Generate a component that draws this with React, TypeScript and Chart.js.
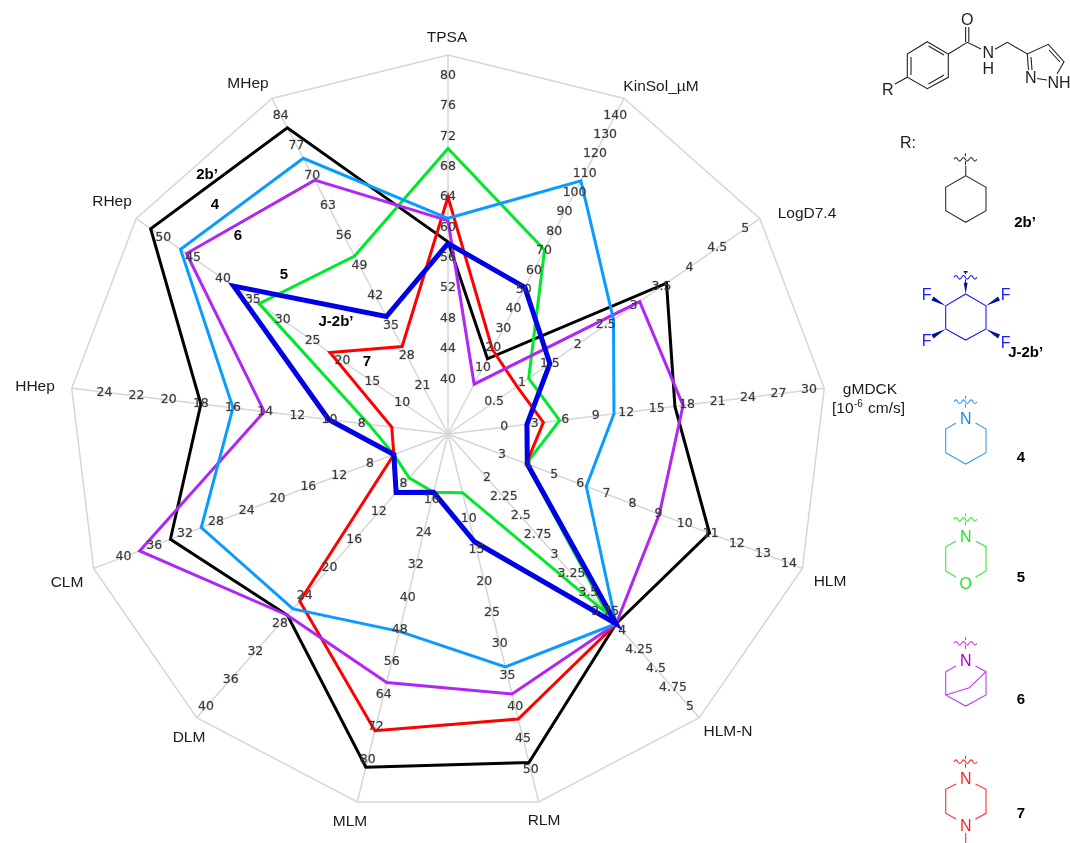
import React, { useEffect, useRef } from "react";
import { Chart, registerables } from "chart.js";

Chart.register(...registerables);

const axes = ["TPSA", "KinSol_µM", "LogD7.4", "gMDCK", "HLM", "HLM-N", "RLM", "MLM", "DLM", "CLM", "HHep", "RHep", "MHep"];

// value found at the centre and at the rim of every spoke
const axisMin = [32.8, -24.4, -0.326, -5.54, 0.93, 1.425, -3.44, -0.29, 0.8, -2.13, 2.63, 2.34, 9.7];
const axisMax = [82.7, 148.7, 5.264, 31.5, 14.51, 5.14, 55.09, 90.49, 41.5, 43.87, 26.03, 54.54, 87.96];

const ticksTPSA = ["40", "44", "48", "52", "56", "60", "64", "68", "72", "76", "80"];
const ticksKinSol = ["10", "20", "30", "40", "50", "60", "70", "80", "90", "100", "110", "120", "130", "140"];
const ticksLogD = ["0.5", "1", "1.5", "2", "2.5", "3", "3.5", "4", "4.5", "5"];
const ticksMDCK = ["0", "3", "6", "9", "12", "15", "18", "21", "24", "27", "30"];
const ticksHLM = ["3", "4", "5", "6", "7", "8", "9", "10", "11", "12", "13", "14"];
const ticksHLMN = ["2", "2.25", "2.5", "2.75", "3", "3.25", "3.5", "3.75", "4", "4.25", "4.5", "4.75", "5"];
const ticksRLM = ["10", "15", "20", "25", "30", "35", "40", "45", "50"];
const ticksMLM = ["16", "24", "32", "40", "48", "56", "64", "72", "80"];
const ticksDLM = ["8", "12", "16", "20", "24", "28", "32", "36", "40"];
const ticksCLM = ["8", "12", "16", "20", "24", "28", "32", "36", "40"];
const ticksHHep = ["8", "10", "12", "14", "16", "18", "20", "22", "24"];
const ticksRHep = ["10", "15", "20", "25", "30", "35", "40", "45", "50"];
const ticksMHep = ["21", "28", "35", "42", "49", "56", "63", "70", "77", "84"];
const axisTicks = [ticksTPSA, ticksKinSol, ticksLogD, ticksMDCK, ticksHLM, ticksHLMN, ticksRLM, ticksMLM, ticksDLM, ticksCLM, ticksHHep, ticksRHep, ticksMHep];

const valuesJ2b = [57.9, 51.2, 1.5, 2.23, 3.97, 3.91, 13.7, 14.1, 9.2, 4.9, 10.05, 38.2, 37.1];
const values4 = [61.2, 106.2, 2.64, 10.8, 6.23, 3.91, 33.6, 48.4, 25.9, 29.9, 16.0, 47.1, 74];
const values6 = [60.9, 1.3, 3.11, 17.6, 9.03, 3.91, 37.9, 61, 26.8, 37.9, 14.06, 46.1, 68.9];
const values7 = [64.0, 19.2, 0.91, 3.85, 3.93, 3.91, 41.9, 72.9, 24.8, 4.9, 6.13, 22.1, 30.1];
const values5 = [70.4, 70.5, 1.12, 5.45, 3.93, 3.78, 5.9, 14.1, 7.1, 4.9, 7.55, 33.95, 51.2];
const values2b = [58.1, 14.4, 3.59, 16.8, 10.95, 3.91, 48.8, 81.9, 26.8, 33.9, 18.0, 52.1, 81.1];

const seriesNames = ["J-2b’", "4", "6", "7", "5", "2b’"];
const seriesValues = [valuesJ2b, values4, values6, values7, values5, values2b];
const seriesColors = ["#0000e6", "#0a9bff", "#b026f5", "#ff0000", "#00e82a", "#000000"];
const seriesWidths = [5, 3, 3, 3, 3, 3];

const labelCentres: [number, number][] = [
  [447, 38], [661, 87], [807, 214], [870, 390], [830, 582], [728, 732], [544, 821],
  [350, 822], [189, 738], [67, 583], [35, 387], [112, 202], [248, 84],
];
const seriesNotes: [string, number, number][] = [
  ["2b’", 207, 175], ["4", 215, 205], ["6", 238, 236], ["5", 284, 275], ["J-2b’", 336, 322], ["7", 367, 362],
];

const radarText = {
  id: "radarText",
  afterDatasetsDraw(chart: any) {
    const { ctx } = chart;
    const scale = chart.scales.r;
    ctx.save();
    ctx.textAlign = "center";
    ctx.textBaseline = "middle";
    ctx.font = '12.5px "DejaVu Sans"';
    ctx.fillStyle = "#3a3a3a";
    ctx.strokeStyle = "rgba(58,58,58,0.55)";
    ctx.lineWidth = 0.4;
    axisTicks.forEach((ticks, i) => {
      ticks.forEach((t) => {
        const frac = (Number(t) - axisMin[i]) / (axisMax[i] - axisMin[i]);
        const p = scale.getPointPositionForValue(i, frac);
        ctx.fillText(t, p.x, p.y);
        ctx.strokeText(t, p.x, p.y);
      });
    });
    ctx.font = '15.5px "Liberation Sans"';
    ctx.fillStyle = "#1c1c1c";
    chart.data.labels.forEach((name: string, i: number) => {
      const [x, y] = labelCentres[i];
      ctx.fillText(name, x, y);
    });
    // second line of the gMDCK label, with its superscript
    ctx.textAlign = "left";
    ctx.fillText("[10", 832, 409);
    ctx.font = '10px "Liberation Sans"';
    ctx.fillText("-6", 854, 404);
    ctx.font = '15.5px "Liberation Sans"';
    ctx.fillText("cm/s]", 868, 409);
    ctx.textAlign = "center";
    ctx.font = 'bold 15px "Liberation Sans"';
    ctx.fillStyle = "#000";
    seriesNotes.forEach(([t, x, y]) => ctx.fillText(t, x, y));
    ctx.restore();
  },
};

const Wiggle = ({ y, c }: { y: number; c: string }) => (
  <g fill="none" stroke={c} strokeWidth={1.1}>
    <path d={`M954 ${y} q1.9 -3.6 3.8 0 t3.8 0 t3.8 0 t3.8 0 t3.8 0 t3.8 0`} />
    <path d={`M965.5 ${y - 6} V${y - 3} M965.5 ${y + 2} V${y + 6}`} />
  </g>
);

const Structures = () => {
  const F = { fontFamily: "Liberation Sans", fontSize: 16, textAnchor: "middle" as const };
  const B = { fontFamily: "Liberation Sans", fontSize: 15, fontWeight: 700 };
  return (
    <svg width={1070} height={843} style={{ position: "absolute", left: 0, top: 0, pointerEvents: "none" }}>
      {/* core */}
      <g fill="none" stroke="#222" strokeWidth={1.1}>
        <path d="M927.3 41.7 L948.3 54 V77.3 L927.3 88.7 L907.3 77.3 V54 Z" />
        <path d="M911 57 V75 M928.5 46 L944 55 M928.5 84 L944 75" />
        <path d="M907.3 77.3 L895 84 M948.3 54 L967.3 42.3 L981 49 M965.6 42 V27 M968.8 42 V27" />
        <path d="M995 49.3 L1007.3 42.3 L1027.3 54 L1048.3 44.3 L1064 61.7 L1057 74 M1027.3 54 L1028.5 70 M1031 57 L1032 70 M1049 50 L1060 62 M1037 78.5 L1047 80" />
      </g>
      <g fill="#222" {...F}>
        <text x={967.3} y={25}>O</text>
        <text x={988.3} y={58}>N</text>
        <text x={988.3} y={73.5}>H</text>
        <text x={1030.7} y={83}>N</text>
        <text x={1059} y={88}>NH</text>
        <text x={887.7} y={95}>R</text>
        <text x={908} y={148}>R:</text>
      </g>
      {/* 2b' */}
      <Wiggle y={159.3} c="#333" />
      <path d="M965.7 166 V175.7 L986 187.3 V210.7 L965.7 222.3 L945.7 210.7 V187.3 L965.7 175.7" fill="none" stroke="#333" strokeWidth={1.1} />
      <text x={1025} y={227} textAnchor="middle" {...B}>2b’</text>
      {/* J-2b' */}
      <Wiggle y={277.3} c="#1a1aff" />
      <path d="M965.7 294 L986 305.7 V329 L965.7 340 L945.7 329 V305.7 Z" fill="none" stroke="#1a1aff" strokeWidth={1.1} />
      <g fill="#00109a">
        <path d="M965.7 294 L963.8 282.7 H967.6 Z" />
        <rect x={963.8} y={271} width={3.8} height={1.6} />
        <path d="M945.7 305.7 L931.5 300.5 L933.5 296.5 Z" />
        <path d="M986 305.7 L1000 300.5 L998 296.5 Z" />
        <path d="M945.7 329 L933.5 338.5 L931.5 334.5 Z" />
        <path d="M986 329 L998 338.5 L1000 334.5 Z" />
      </g>
      <g fill="#1a1aff" {...F}>
        <text x={926.7} y={300}>F</text>
        <text x={1005.7} y={300}>F</text>
        <text x={926.7} y={346}>F</text>
        <text x={1005.7} y={348}>F</text>
      </g>
      <text x={1025.7} y={357} textAnchor="middle" {...B}>J-2b’</text>
      {/* 4 */}
      <Wiggle y={401.7} c="#3a9be8" />
      <path d="M956 423 L945.7 429 V452.7 L965.7 464 L986 452.7 V429 L975.5 423" fill="none" stroke="#3a9be8" strokeWidth={1.1} />
      <text x={965.7} y={424} fill="#1e88e5" {...F}>N</text>
      <text x={1021} y={462} textAnchor="middle" {...B}>4</text>
      {/* 5 */}
      <Wiggle y={519.3} c="#33ee33" />
      <path d="M956 541 L945.7 546.7 V571 L956 577 M975.5 577 L986 571 V546.7 L975.5 541" fill="none" stroke="#33ee33" strokeWidth={1.1} />
      <text x={965.7} y={542} fill="#22e622" {...F}>N</text>
      <text x={965.7} y={588.5} fill="#22e622" {...F}>O</text>
      <text x={1021} y={582} textAnchor="middle" {...B}>5</text>
      {/* 6 */}
      <Wiggle y={643.3} c="#c83fd8" />
      <path d="M956 666 L945.7 671.7 V695 L965.7 706 L986 695 V671.7 L975.5 666 M945.7 695 L969.3 687.7 L986 671.7" fill="none" stroke="#c040e0" strokeWidth={1.1} />
      <text x={965.7} y={666} fill="#b000d0" {...F}>N</text>
      <text x={1021} y={703.5} textAnchor="middle" {...B}>6</text>
      {/* 7 */}
      <Wiggle y={761.7} c="#ff3030" />
      <path d="M956 784 L945.7 789.3 V813.3 L956 819 M975.5 819 L986 813.3 V789.3 L975.5 784 M965.7 833 V843" fill="none" stroke="#ff3030" strokeWidth={1.1} />
      <text x={965.7} y={784} fill="#ff1f1f" {...F}>N</text>
      <text x={965.7} y={831} fill="#ff1f1f" {...F}>N</text>
      <text x={1021} y={817.5} textAnchor="middle" {...B}>7</text>
    </svg>
  );
};

export default function App() {
  const ref = useRef<HTMLCanvasElement>(null);
  useEffect(() => {
    const chart = new Chart(ref.current as HTMLCanvasElement, {
      type: "radar",
      data: {
        labels: axes,
        datasets: seriesNames.map((label, s) => ({
          label,
          data: seriesValues[s].map((v, i) => (v - axisMin[i]) / (axisMax[i] - axisMin[i])),
          borderColor: seriesColors[s],
          borderWidth: seriesWidths[s],
          backgroundColor: "transparent",
          fill: false,
          tension: 0,
          pointRadius: 0,
          pointHoverRadius: 0,
        })),
      },
      options: {
        responsive: false,
        animation: false,
        layout: { padding: { left: 69, right: 243, top: 55, bottom: 30 } },
        plugins: { legend: { display: false }, title: { display: false }, tooltip: { enabled: false } },
        scales: {
          r: {
            min: 0,
            max: 1,
            ticks: { display: false, stepSize: 1 },
            pointLabels: { display: false },
            grid: { color: "#d6d6d6", lineWidth: 1.5 },
            angleLines: { color: "#d6d6d6", lineWidth: 1.5 },
          },
        },
      },
      plugins: [radarText],
    } as any);
    return () => chart.destroy();
  }, []);
  return (
    <div style={{ position: "absolute", left: 0, top: 0, width: 1070, height: 843, background: "#fff", overflow: "hidden" }}>
      <canvas ref={ref} width={1070} height={843} style={{ display: "block" }} />
      <Structures />
    </div>
  );
}
